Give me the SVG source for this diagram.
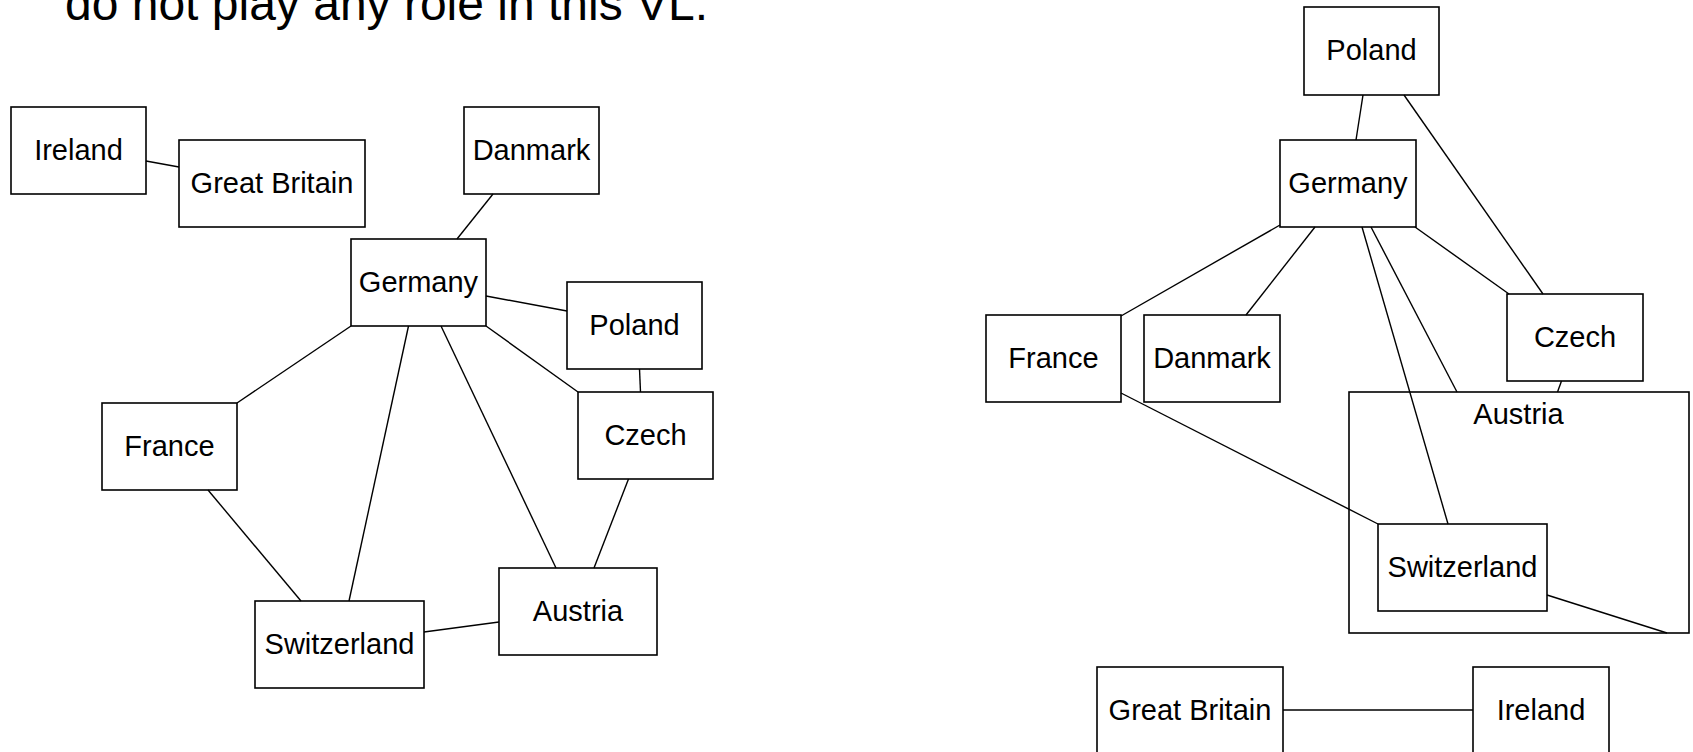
<svg xmlns="http://www.w3.org/2000/svg" width="1693" height="752" viewBox="0 0 1693 752">
<style>
.box{fill:#fff;stroke:#000;stroke-width:1.6}
.grp{fill:none;stroke:#000;stroke-width:1.6}
.lbl{font-family:"Liberation Sans",Arial,sans-serif;font-size:29px;fill:#000;text-anchor:middle}
.title{font-family:"Liberation Sans",Arial,sans-serif;font-size:48px;fill:#000}
#connectors line{stroke:#000;stroke-width:1.4}
</style>
<rect width="1693" height="752" fill="#fff"/>
<text class="title" x="65" y="20">do not play any role in this VL.</text>
<g id="left">
<g id="L-Ireland"><rect class="box" x="11" y="107" width="135" height="87"/><text class="lbl" x="78.5" y="159.5">Ireland</text></g>
<g id="L-GreatBritain"><rect class="box" x="179" y="140" width="186" height="87"/><text class="lbl" x="272" y="192.5">Great Britain</text></g>
<g id="L-Danmark"><rect class="box" x="464" y="107" width="135" height="87"/><text class="lbl" x="531.5" y="159.5">Danmark</text></g>
<g id="L-Germany"><rect class="box" x="351" y="239" width="135" height="87"/><text class="lbl" x="418.5" y="291.5">Germany</text></g>
<g id="L-Poland"><rect class="box" x="567" y="282" width="135" height="87"/><text class="lbl" x="634.5" y="334.5">Poland</text></g>
<g id="L-Czech"><rect class="box" x="578" y="392" width="135" height="87"/><text class="lbl" x="645.5" y="444.5">Czech</text></g>
<g id="L-France"><rect class="box" x="102" y="403" width="135" height="87"/><text class="lbl" x="169.5" y="455.5">France</text></g>
<g id="L-Switzerland"><rect class="box" x="255" y="601" width="169" height="87"/><text class="lbl" x="339.5" y="653.5">Switzerland</text></g>
<g id="L-Austria"><rect class="box" x="499" y="568" width="158" height="87"/><text class="lbl" x="578" y="620.5">Austria</text></g>
</g>
<g id="right">
<g id="R-Poland"><rect class="box" x="1304" y="7" width="135" height="88"/><text class="lbl" x="1371.5" y="60">Poland</text></g>
<g id="R-Germany"><rect class="box" x="1280" y="140" width="136" height="87"/><text class="lbl" x="1348" y="192.5">Germany</text></g>
<g id="R-France"><rect class="box" x="986" y="315" width="135" height="87"/><text class="lbl" x="1053.5" y="367.5">France</text></g>
<g id="R-Danmark"><rect class="box" x="1144" y="315" width="136" height="87"/><text class="lbl" x="1212" y="367.5">Danmark</text></g>
<g id="R-Czech"><rect class="box" x="1507" y="294" width="136" height="87"/><text class="lbl" x="1575" y="346.5">Czech</text></g>
<g id="R-Austria"><rect class="grp" x="1349" y="392" width="340" height="241"/><text class="lbl" x="1518.5" y="423.5">Austria</text></g>
<g id="R-Switzerland"><rect class="box" x="1378" y="524" width="169" height="87"/><text class="lbl" x="1462.5" y="576.5">Switzerland</text></g>
<g id="R-GreatBritain"><rect class="box" x="1097" y="667" width="186" height="87"/><text class="lbl" x="1190" y="719.5">Great Britain</text></g>
<g id="R-Ireland"><rect class="box" x="1473" y="667" width="136" height="87"/><text class="lbl" x="1541" y="719.5">Ireland</text></g>
</g>
<g id="connectors">
<line x1="146" y1="161" x2="179" y2="167"/>
<line x1="493" y1="194" x2="457" y2="239"/>
<line x1="486" y1="296" x2="567" y2="311"/>
<line x1="351" y1="326" x2="237" y2="403"/>
<line x1="408.5" y1="326" x2="349" y2="601"/>
<line x1="441" y1="326" x2="556" y2="568"/>
<line x1="486" y1="326" x2="578" y2="392"/>
<line x1="639.5" y1="369" x2="640.5" y2="392"/>
<line x1="208" y1="490" x2="301" y2="601"/>
<line x1="628.5" y1="479" x2="594" y2="568"/>
<line x1="424" y1="632" x2="499" y2="622"/>
<line x1="1363" y1="95" x2="1356" y2="140"/>
<line x1="1404" y1="95" x2="1543" y2="294"/>
<line x1="1280" y1="225" x2="1121" y2="316"/>
<line x1="1315" y1="227" x2="1246" y2="315"/>
<line x1="1362" y1="227" x2="1448" y2="524"/>
<line x1="1371" y1="227" x2="1457" y2="392"/>
<line x1="1415" y1="227" x2="1509" y2="294"/>
<line x1="1561.5" y1="381" x2="1557.5" y2="392"/>
<line x1="1121" y1="393" x2="1378" y2="524"/>
<line x1="1547" y1="595" x2="1667" y2="633"/>
<line x1="1283" y1="710" x2="1473" y2="710"/>
</g>
</svg>
